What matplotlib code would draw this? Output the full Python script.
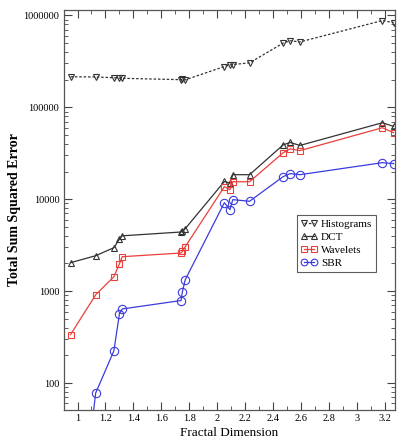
import matplotlib
matplotlib.use("Agg")
import matplotlib.pyplot as plt
from matplotlib.ticker import FixedLocator, MultipleLocator, LogLocator, NullFormatter

plt.rcParams['font.family'] = ['Liberation Serif', 'DejaVu Serif']

fractal_dim = [0.95, 1.13, 1.26, 1.30, 1.32, 1.74, 1.75, 1.77, 2.05, 2.09, 2.11,
               2.23, 2.47, 2.52, 2.59, 3.18, 3.26]
histograms = [215000, 214000, 210000, 208000, 207000, 200000, 201000, 199000, 278000,
              290000, 292000, 305000, 500000, 530000, 515000, 880000, 835000]
dct = [2040, 2430, 2970, 3700, 4000, 4400, 4500, 4780, 15600, 15000, 18500,
       18500, 39000, 41500, 38500, 68000, 62000]
wavelets = [336, 914, 1435, 1990, 2370, 2600, 2700, 3040, 13700, 12700, 15500,
            15500, 32000, 35400, 33800, 60000, 53000]
sbr = [0.4, 78, 224, 570, 640, 790, 985, 1330, 9170, 7700, 9900,
       9500, 17600, 19000, 18500, 25000, 24400]

x_ticks = [1, 1.2, 1.4, 1.6, 1.8, 2, 2.2, 2.4, 2.6, 2.8, 3, 3.2]
x_tick_labels = ["1", "1.2", "1.4", "1.6", "1.8", "2", "2.2", "2.4", "2.6", "2.8", "3", "3.2"]
y_ticks = [100, 1000, 10000, 100000, 1000000]
y_tick_labels = ["100", "1000", "10000", "100000", "1000000"]

fig = plt.figure(figsize=(3.97, 4.48), dpi=100)
ax = fig.add_axes([0.16, 0.085, 0.835, 0.893])

ms = 5
ax.plot(fractal_dim, histograms, color='#333333', ls=(0, (2, 1.5)), lw=0.9,
        marker='v', ms=ms, mfc='none', mec='#333333', mew=0.8, label='Histograms')
ax.plot(fractal_dim, dct, color='#333333', lw=0.9,
        marker='^', ms=ms, mfc='none', mec='#333333', mew=0.8, label='DCT')
ax.plot(fractal_dim, wavelets, color='#e8403c', lw=0.9,
        marker='s', ms=ms, mfc='none', mec='#e8403c', mew=0.8, label='Wavelets')
ax.plot(fractal_dim, sbr, color='#3b3bdc', lw=0.9,
        marker='o', ms=ms + 1, mfc='none', mec='#3b3bdc', mew=0.8, label='SBR')

ax.set_yscale('log')
ax.set_xlim(0.9, 3.27)
ax.set_ylim(51, 1.15e6)

ax.xaxis.set_major_locator(FixedLocator(x_ticks))
ax.set_xticklabels(x_tick_labels)
ax.xaxis.set_minor_locator(MultipleLocator(0.1))
ax.yaxis.set_major_locator(FixedLocator(y_ticks))
ax.set_yticklabels(y_tick_labels)
ax.yaxis.set_minor_locator(LogLocator(base=10, subs=range(2, 10)))
ax.yaxis.set_minor_formatter(NullFormatter())

ax.tick_params(which='both', direction='in', top=True, right=True, labelsize=7.5,
               color='#444444')
ax.tick_params(which='major', length=6, width=0.8, pad=3)
ax.tick_params(which='minor', length=3, width=0.6)
for s in ax.spines.values():
    s.set_color('#555555')
    s.set_linewidth(0.9)

ax.set_xlabel('Fractal Dimension', fontsize=9.5, labelpad=3)
ax.set_ylabel('Total Sum Squared Error', fontsize=10, fontweight='bold')
ax.yaxis.set_label_coords(-0.128, 0.5)

leg = ax.legend(loc='upper left', bbox_to_anchor=(0.705, 0.4875), fontsize=8,
                frameon=True, fancybox=False, edgecolor='#333333', numpoints=2,
                handlelength=1.5, handletextpad=0.3, borderpad=0.35,
                labelspacing=0.3, borderaxespad=0, markerscale=0.8)
leg.get_frame().set_linewidth(0.8)

fig.savefig('out.png', dpi=100)
